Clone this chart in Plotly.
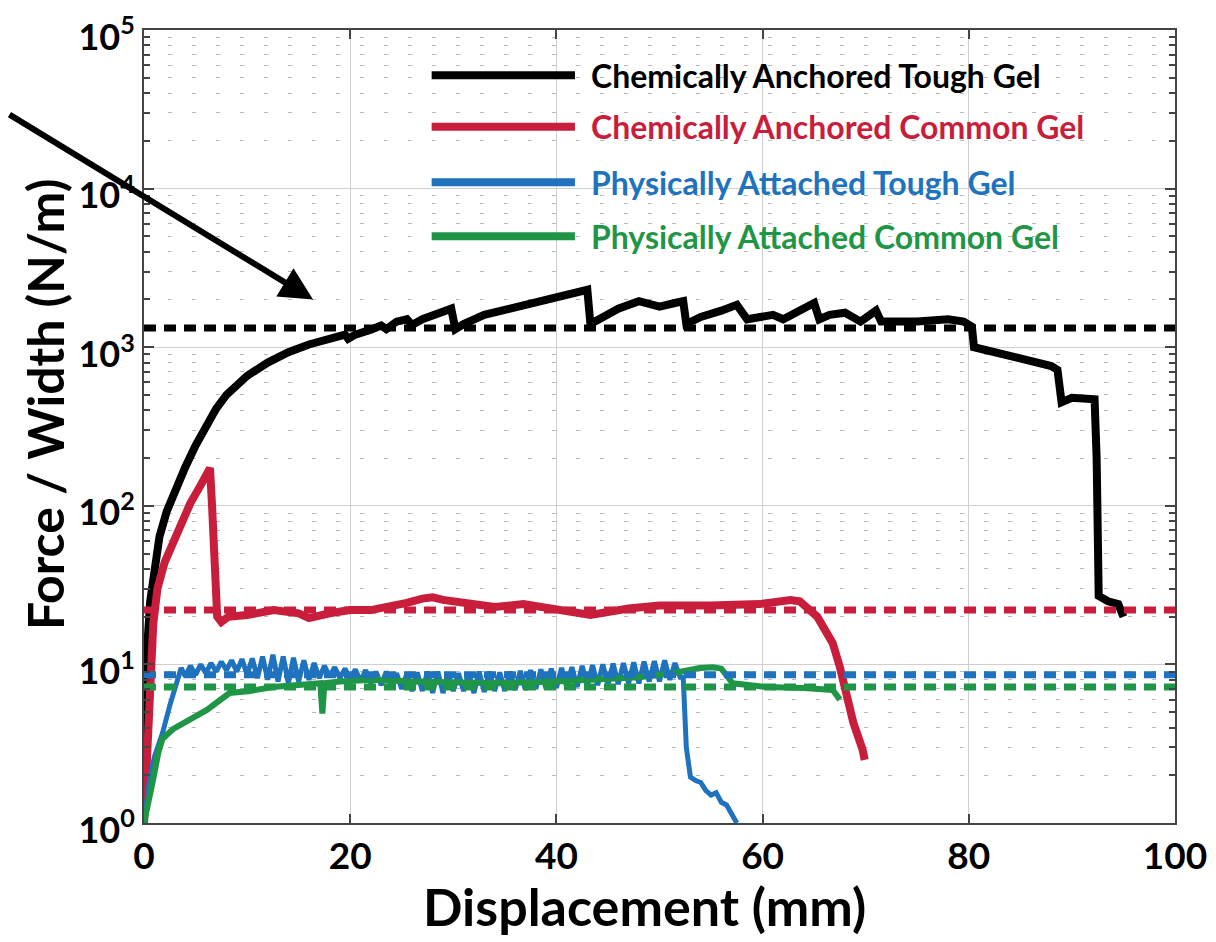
import plotly.graph_objects as go

# ---------------- data ----------------
black_x = [0, 0.15, 0.35, 0.6, 1.0, 1.5, 2.2, 3.0, 4.0, 5.0, 6.0, 7.0, 8.0, 9.0, 10, 12, 14, 16, 18, 19.5, 19.8,
           20.5, 22, 23, 23.5, 24.5, 25.5, 26, 27, 29, 29.8, 30.2, 31, 33, 35, 37, 40, 42, 43, 43.3, 44.5, 46, 48,
           49, 50, 51.5, 52.3, 52.6, 54, 56, 57.5, 58.5, 60, 61, 62, 63.5, 65, 65.5, 66.5, 68, 69.5, 71, 71.5, 75,
           78, 79.5, 80.3, 80.5, 82, 84, 86, 88, 88.6, 89, 90, 91.5, 92.2, 92.4, 92.6, 93.5, 94.5, 95]
black_y = [1, 5, 14, 25, 42, 64, 92, 125, 175, 240, 320, 410, 500, 580, 660, 800, 930, 1040, 1130, 1200, 1130,
           1200, 1290, 1370, 1300, 1450, 1500, 1380, 1500, 1700, 1750, 1300, 1400, 1600, 1720, 1850, 2050, 2250, 2300, 1400, 1550, 1750, 1950,
           1850, 1800, 1900, 1950, 1400, 1550, 1700, 1850, 1500, 1550, 1600, 1500, 1700, 1900, 1500, 1600, 1650, 1450, 1700, 1450, 1450,
           1500, 1450, 1350, 1000, 950, 880, 820, 760, 720, 450, 480, 480, 470, 200, 27, 25, 24, 20]

red_x = [0, 0.2, 0.4, 0.6, 0.9, 1.3, 2.0, 2.8, 3.6, 4.5, 5.5, 6.4, 6.6, 6.9, 7.1, 7.5, 8.2, 10, 12.6, 15, 16, 18,
         20, 22, 24, 25.5, 27, 28, 29, 31, 34, 36.8, 40, 43.3, 47, 50, 55, 59.7, 62.7, 63.6, 65.3, 66.8, 67.5,
         68.2, 68.8, 69.7, 69.9]
red_y = [1, 2.2, 4.5, 8.5, 18, 30, 44, 58, 78, 104, 135, 173, 100, 40, 20, 18.5, 20, 20.5, 22, 21, 19.6, 21,
         22, 22, 23, 24.4, 26, 26.5, 25.5, 24.4, 23, 24, 22.5, 20.5, 22.5, 23.5, 23.5, 24, 25.5, 25, 20, 13.6, 9.6,
         6, 4.3, 2.9, 2.5]

blue_x = [0, 0.5, 1.0, 1.8, 2.5, 3.2, 3.6, 4.0, 4.5, 5.0, 5.5, 6.0, 6.5, 7.0, 7.5, 8.0, 8.5, 9.0, 9.5, 10.0,
          10.5, 11.0, 11.5, 12.0, 12.5, 13.0, 13.5, 14.0, 14.5, 15.0, 15.5, 16.0, 16.5, 17.0, 17.5, 18.0, 18.5,
          19.0, 19.5, 20.0, 20.5, 21.0, 21.5, 22.0, 22.5, 23.0, 23.5, 24.0, 24.5, 25.0, 25.5, 26.0, 26.5, 27.0,
          27.5, 28.0, 28.5, 29.0, 29.5, 30.0, 30.5, 31.0, 31.5, 32.0, 32.5, 33.0, 33.5, 34.0, 34.5, 35.0, 35.5,
          36.0, 36.5, 37.0, 37.5, 38.0, 38.5, 39.0, 39.5, 40.0, 40.5, 41.0, 41.5, 42.0, 42.5, 43.0, 43.5, 44.0,
          44.5, 45.0, 45.5, 46.0, 46.5, 47.0, 47.5, 48.0, 48.5, 49.0, 49.5, 50.0, 50.5, 51.0, 51.5, 52.0, 52.3,
          52.6, 53.0, 53.5, 54.0, 54.5, 55.0, 55.5, 56.0, 56.5, 57.0, 57.5]
blue_y = [1, 1.8, 2.6, 3.7, 5.5, 8.0, 9.5, 8.4, 9.8, 8.6, 10.0, 8.8, 10.2, 9.0, 10.4, 9.2, 10.6, 9.0, 10.8, 8.6,
          10.9, 8.2, 11.2, 8.0, 11.5, 7.8, 11.2, 7.6, 11.0, 7.8, 10.6, 8.0, 10.2, 8.2, 9.8, 8.4, 9.6,
          8.2, 9.4, 8.0, 9.3, 7.8, 9.2, 7.6, 9.0, 7.4, 9.0, 7.2, 8.8, 7.0, 8.8, 6.8, 8.9, 6.8,
          9.0, 6.6, 9.0, 6.6, 8.9, 6.8, 8.8, 6.8, 8.9, 6.6, 9.0, 6.7, 9.0, 6.8, 8.9, 6.8, 9.0,
          6.9, 9.1, 6.9, 9.2, 7.0, 9.3, 7.0, 9.4, 7.1, 9.5, 7.2, 9.6, 7.2, 9.8, 7.3, 9.9, 7.4,
          10.0, 7.4, 10.1, 7.5, 10.2, 7.6, 10.3, 7.6, 10.4, 7.8, 10.5, 7.8, 10.6, 8.0, 10.2, 8.3, 8.3,
          3.0, 1.95, 1.85, 1.8, 1.6, 1.5, 1.55, 1.35, 1.3, 1.15, 1.0]

green_x = [0, 0.4, 0.9, 1.4, 1.8, 2.8, 4.5, 6.1, 8.3, 10.3, 12.5, 15.8, 17.1, 17.3, 17.5, 19, 22.2, 26, 30, 34.5,
           40, 44.2, 48, 51.3, 53.9, 55.2, 56.0, 57.1, 60.4, 64, 66.8, 67.5]
green_y = [1, 1.4, 1.9, 2.8, 3.4, 3.9, 4.46, 5.16, 6.6, 6.8, 7.2, 7.6, 7.6, 4.9, 7.6, 7.8, 8.0, 7.8, 7.7, 7.6,
           7.8, 8.0, 8.3, 8.8, 9.5, 9.6, 9.4, 7.6, 7.2, 7.1, 6.9, 6.0]

ref_levels = [1320, 22, 8.6, 7.2]   # horizontal dashed reference levels (black, red, blue, green)

series_names = ["Chemically Anchored Tough Gel", "Chemically Anchored Common Gel",
                "Physically Attached Tough Gel", "Physically Attached Common Gel"]
colors = ["#000000", "#c81e3c", "#1f72bd", "#1f9646"]

x_ticks = [0, 20, 40, 60, 80, 100]
y_tick_vals = [1, 10, 100, 1000, 10000, 100000]
y_tick_text = ["10<sup>0</sup>", "10<sup>1</sup>", "10<sup>2</sup>", "10<sup>3</sup>", "10<sup>4</sup>", "10<sup>5</sup>"]
y_minor_vals = [m * 10 ** k for k in range(0, 5) for m in range(2, 10)]

x_title = "Displacement (mm)"
y_title = "Force / Width (N/m)"

FONT = "Lato"

fig = go.Figure()

curves = [(black_x, black_y, 8), (red_x, red_y, 8), (blue_x, blue_y, 5), (green_x, green_y, 6)]
for (xs, ys, w), name, c in zip(curves, series_names, colors):
    fig.add_trace(go.Scatter(x=xs, y=ys, mode="lines", name=name,
                             line=dict(color=c, width=w), showlegend=False))

for lvl, c in zip(ref_levels, colors):
    fig.add_trace(go.Scatter(x=[0, 100], y=[lvl, lvl], mode="lines", showlegend=False,
                             line=dict(color=c, width=7, dash="12px,8px"), hoverinfo="skip"))

# manual legend (long line samples like the original)
leg_rows = [0.943, 0.878, 0.808, 0.740]
for yy, name, c in zip(leg_rows, series_names, colors):
    fig.add_shape(type="line", xref="paper", yref="paper", x0=0.279, x1=0.418, y0=yy, y1=yy,
                  line=dict(color=c, width=8))
    fig.add_annotation(xref="paper", yref="paper", x=0.432, y=yy, xanchor="left", yanchor="middle",
                       text="<b>" + name + "</b>", showarrow=False,
                       font=dict(family=FONT, size=32, color=c))

# arrow
fig.add_annotation(x=16.4, y=3.3, xref="x", yref="y", axref="pixel", ayref="pixel",
                   ax=-314, ay=-186, text="", showarrow=True, arrowhead=2, arrowsize=1.1,
                   arrowwidth=6, arrowcolor="#000000")

# axis titles (placed as in the original, slightly off-centre)
fig.add_annotation(xref="paper", yref="paper", x=0.485, y=-0.105, xanchor="center", yanchor="middle",
                   text="<b>" + x_title + "</b>", showarrow=False,
                   font=dict(family=FONT, size=52, color="#000"))
fig.add_annotation(xref="paper", yref="paper", x=-0.096, y=0.527, xanchor="center", yanchor="middle",
                   text="<b>" + y_title + "</b>", showarrow=False, textangle=-90,
                   font=dict(family=FONT, size=50, color="#000"))

# page has an 8px body margin: plot area should land at page x 144..1175, y 30..823
fig.update_layout(
    width=1216, height=942,
    margin=dict(l=136, r=49, t=22, b=127),
    paper_bgcolor="white", plot_bgcolor="white",
    font=dict(family=FONT, color="#000000"),
)

fig.update_xaxes(range=[0, 100], tickvals=x_ticks, ticktext=["<b>%d</b>" % v for v in x_ticks],
                 tickfont=dict(family=FONT, size=37, color="#000"), automargin=False,
                 ticklabeloverflow="allow",
                 showline=True, linecolor="#444", linewidth=2, mirror="ticks",
                 ticks="inside", ticklen=9, tickwidth=2, tickcolor="#444",
                 showgrid=True, gridcolor="#cfcfcf", gridwidth=1, zeroline=False)

fig.update_yaxes(type="log", range=[0, 5], tickvals=y_tick_vals,
                 ticktext=["<b>" + t + "</b>" for t in y_tick_text],
                 tickfont=dict(family=FONT, size=36, color="#000"), automargin=False,
                 ticklabeloverflow="allow", ticklabelshift=7,
                 showline=True, linecolor="#444", linewidth=2, mirror="ticks",
                 ticks="inside", ticklen=10, tickwidth=2, tickcolor="#444",
                 showgrid=True, gridcolor="#cfcfcf", gridwidth=1, zeroline=False,
                 minor=dict(tickvals=y_minor_vals, ticks="inside", ticklen=6, tickwidth=2, tickcolor="#444",
                            showgrid=True, gridcolor="#b8b8b8", gridwidth=1, griddash="4px,20px"))

fig.write_html("out.html")
